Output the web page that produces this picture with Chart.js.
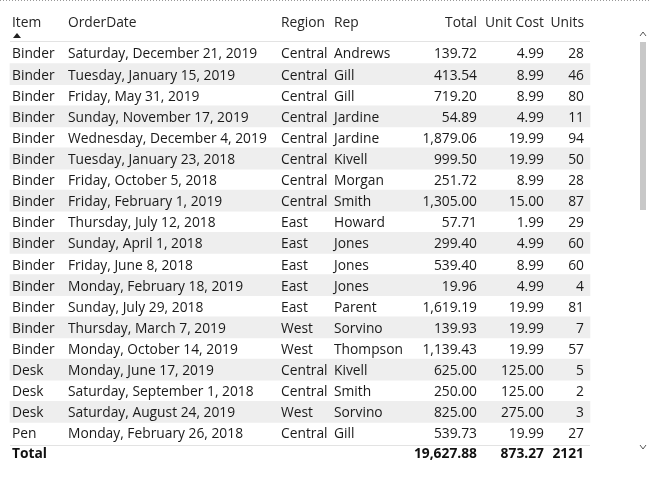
<!DOCTYPE html>
<html><head><meta charset="utf-8">
<script src="https://cdn.jsdelivr.net/npm/chart.js@4"></script>
<style>html,body{margin:0;padding:0;background:#fff}#c{display:block}</style>
</head><body>
<canvas id="c" width="650" height="484"></canvas>
<script>
const headers = ["Item","OrderDate","Region","Rep","Total","Unit Cost","Units"];
const items = ["Binder","Binder","Binder","Binder","Binder","Binder","Binder","Binder","Binder","Binder","Binder","Binder","Binder","Binder","Binder","Desk","Desk","Desk","Pen"];
const orderDates = ["Saturday, December 21, 2019","Tuesday, January 15, 2019","Friday, May 31, 2019","Sunday, November 17, 2019","Wednesday, December 4, 2019","Tuesday, January 23, 2018","Friday, October 5, 2018","Friday, February 1, 2019","Thursday, July 12, 2018","Sunday, April 1, 2018","Friday, June 8, 2018","Monday, February 18, 2019","Sunday, July 29, 2018","Thursday, March 7, 2019","Monday, October 14, 2019","Monday, June 17, 2019","Saturday, September 1, 2018","Saturday, August 24, 2019","Monday, February 26, 2018"];
const regions = ["Central","Central","Central","Central","Central","Central","Central","Central","East","East","East","East","East","West","West","Central","Central","West","Central"];
const reps = ["Andrews","Gill","Gill","Jardine","Jardine","Kivell","Morgan","Smith","Howard","Jones","Jones","Jones","Parent","Sorvino","Thompson","Kivell","Smith","Sorvino","Gill"];
const totals = ["139.72","413.54","719.20","54.89","1,879.06","999.50","251.72","1,305.00","57.71","299.40","539.40","19.96","1,619.19","139.93","1,139.43","625.00","250.00","825.00","539.73"];
const unitCosts = ["4.99","8.99","8.99","4.99","19.99","19.99","8.99","15.00","1.99","4.99","8.99","4.99","19.99","19.99","19.99","125.00","125.00","275.00","19.99"];
const units = ["28","46","80","11","94","50","28","87","29","60","60","4","81","7","57","5","2","3","27"];
const totalRow = ["Total","","","","19,627.88","873.27","2121"];

const cols = [
  {x:12,align:"left",data:items},{x:68,align:"left",data:orderDates},
  {x:281,align:"left",data:regions},{x:334,align:"left",data:reps},
  {x:477,align:"right",data:totals},{x:544,align:"right",data:unitCosts},
  {x:584,align:"right",data:units}];
const FONT = "13.8px 'Open Sans', 'Noto Sans', sans-serif";

const tablePlugin = {
  id:'table',
  afterDatasetsDraw(chart){
    const ctx = chart.ctx, y = chart.scales.y;
    const y0 = y.getPixelForValue(0), yN = y.getPixelForValue(items.length-1);
    const step = (yN-y0)/(items.length-1);
    ctx.save();
    ctx.textBaseline = "middle";
    ctx.font = FONT;
    cols.forEach((c,i)=>{ctx.textAlign=c.align;ctx.fillStyle="#252525";ctx.fillText(headers[i],c.x,Math.round(y0-30));});
    ctx.fillStyle="#222";ctx.beginPath();ctx.moveTo(13,38);ctx.lineTo(21,38);ctx.lineTo(17,33);ctx.closePath();ctx.fill();
    ctx.strokeStyle="#e3e3e3";ctx.lineWidth=1;
    ctx.beginPath();ctx.moveTo(10,41.5);ctx.lineTo(590,41.5);ctx.stroke();
    ctx.fillStyle="#1a1a1a";
    items.forEach((_,r)=>{const py=Math.round(y.getPixelForValue(r)+1.5);
      cols.forEach(c=>{ctx.textAlign=c.align;ctx.fillText(c.data[r],c.x,py);});});
    const ty = Math.round(yN + step*0.5 + 1);
    ctx.strokeStyle="#e3e3e3";ctx.beginPath();ctx.moveTo(10,ty+0.5);ctx.lineTo(590,ty+0.5);ctx.stroke();
    ctx.font = "bold "+FONT; ctx.fillStyle="#111";
    cols.forEach((c,i)=>{if(totalRow[i]){ctx.textAlign=c.align;ctx.fillText(totalRow[i],c.x,Math.round(yN+step*0.95+1.5));}});
    ctx.fillStyle="#c8c8c8";ctx.fillRect(640,42,6,168);
    ctx.strokeStyle="#555";ctx.lineWidth=1;
    ctx.beginPath();ctx.moveTo(640,36);ctx.lineTo(643,32);ctx.lineTo(646,36);ctx.stroke();
    ctx.beginPath();ctx.moveTo(640,445);ctx.lineTo(643,449);ctx.lineTo(646,445);ctx.stroke();
    ctx.strokeStyle="#999";ctx.setLineDash([1,2]);ctx.beginPath();ctx.moveTo(0,0.5);ctx.lineTo(650,0.5);ctx.stroke();
    ctx.restore();
  }
};

new Chart(document.getElementById('c'),{
  type:'bar',
  data:{labels:items.map((_,i)=>i),
    datasets:[{data:items.map((_,i)=>i%2===1?[10,590]:null),backgroundColor:'#eeeeee',
      barPercentage:1,categoryPercentage:1,borderWidth:0}]},
  options:{indexAxis:'y',responsive:false,animation:false,
    layout:{padding:{top:42.4,bottom:40.5,left:0,right:0}},
    plugins:{legend:{display:false},tooltip:{enabled:false}},
    scales:{x:{type:'linear',min:0,max:650,display:false},
      y:{display:false,offset:true,grid:{offset:true}}}},
  plugins:[tablePlugin]
});
</script>
</body></html>
